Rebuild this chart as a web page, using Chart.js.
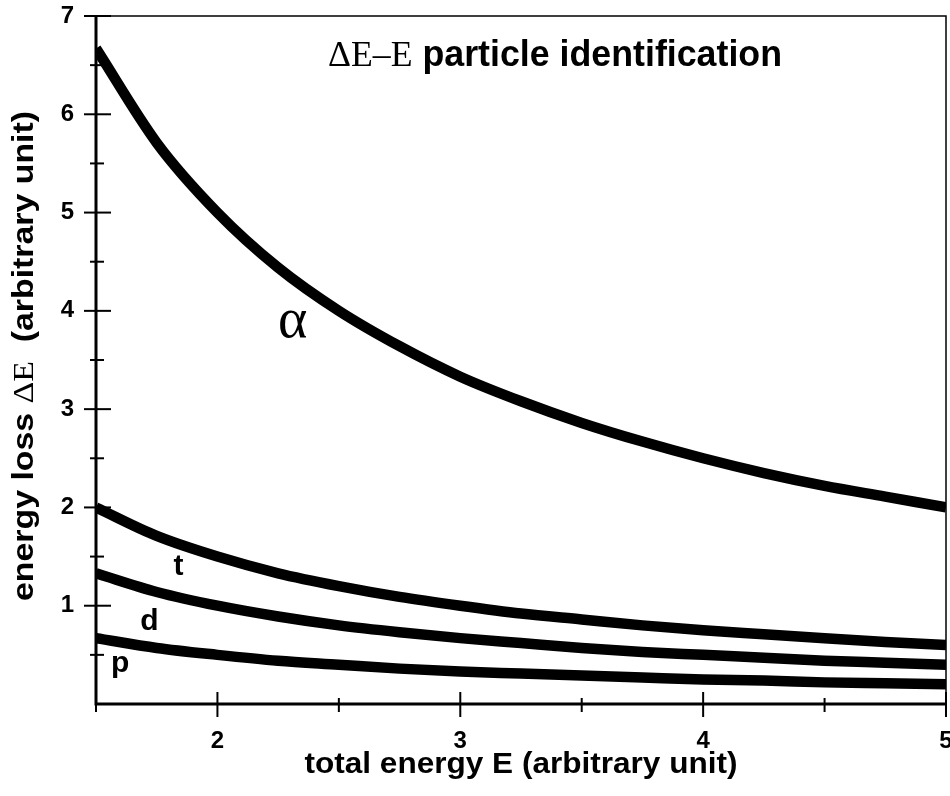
<!DOCTYPE html>
<html>
<head>
<meta charset="utf-8">
<script src="https://cdn.jsdelivr.net/npm/chart.js@4"></script>
<style>
  html, body { margin: 0; padding: 0; background: #fff; }
  #wrap { width: 950px; height: 796px; position: relative; }
</style>
</head>
<body>
<div id="wrap"><canvas id="pidChart"></canvas></div>
<script>
// values
const energyE = [1.5, 1.75, 2, 2.25, 2.5, 2.75, 3, 3.25, 3.5, 3.75, 4, 4.25, 4.5, 4.75, 5];
const alphaLoss = [6.67, 5.71, 5.00, 4.44, 4.00, 3.64, 3.33, 3.08, 2.86, 2.67, 2.50, 2.35, 2.22, 2.11, 2.00];
const tritonLoss = [2.00, 1.71, 1.50, 1.33, 1.20, 1.09, 1.00, 0.92, 0.86, 0.80, 0.75, 0.71, 0.67, 0.63, 0.60];
const deuteronLoss = [1.33, 1.14, 1.00, 0.89, 0.80, 0.73, 0.67, 0.62, 0.57, 0.53, 0.50, 0.47, 0.44, 0.42, 0.40];
const protonLoss = [0.67, 0.57, 0.50, 0.44, 0.40, 0.36, 0.33, 0.31, 0.29, 0.27, 0.25, 0.24, 0.22, 0.21, 0.20];

const xMajorTicks = [2, 3, 4, 5];
const xMinorTicks = [1.5, 2.5, 3.5, 4.5];
const yMajorTicks = [1, 2, 3, 4, 5, 6, 7];
const yMinorTicks = [0.5, 1.5, 2.5, 3.5, 4.5, 5.5, 6.5];

// curve labels: [text, x, y, serif?]
const curveLabels = [
    ['\u03b1', 2.31, 3.88, true],
    ['t', 1.84, 1.40, false],
    ['d', 1.72, 0.84, false],
    ['p', 1.6, 0.41, false]
];

const SANS = '"Liberation Sans", Arial, sans-serif';
const SERIF = '"Liberation Serif", "Times New Roman", serif';

const toPoints = (ys) => energyE.map((x, i) => ({ x: x, y: ys[i] }));

function lineSet(label, ys) {
    return {
        label: label,
        data: toPoints(ys),
        borderColor: '#000',
        borderWidth: 10.5,
        pointRadius: 0,
        fill: false,
        cubicInterpolationMode: 'monotone'
    };
}

// draws the boxed frame, crossing ticks, tick labels, titles and curve labels
const framePlugin = {
    id: 'frame',
    afterDraw(chart) {
        const ctx = chart.ctx;
        const xs = chart.scales.x, ys = chart.scales.y;
        const a = chart.chartArea;
        ctx.save();
        ctx.strokeStyle = '#000';
        ctx.fillStyle = '#000';

        // frame
        ctx.lineWidth = 3;
        ctx.beginPath();
        ctx.moveTo(a.left, a.top); ctx.lineTo(a.left, a.bottom); ctx.lineTo(a.right, a.bottom);
        ctx.stroke();
        ctx.lineWidth = 1.5;
        ctx.beginPath();
        ctx.moveTo(a.left - 12, a.top); ctx.lineTo(a.right, a.top); ctx.lineTo(a.right, a.bottom);
        ctx.stroke();

        // y ticks
        ctx.lineWidth = 2;
        yMajorTicks.forEach(v => {
            const py = ys.getPixelForValue(v);
            ctx.beginPath(); ctx.moveTo(a.left - 12, py); ctx.lineTo(a.left + 15, py); ctx.stroke();
        });
        yMinorTicks.forEach(v => {
            const py = ys.getPixelForValue(v);
            ctx.beginPath(); ctx.moveTo(a.left - 6, py); ctx.lineTo(a.left + 8, py); ctx.stroke();
        });
        // x ticks
        xMajorTicks.forEach(v => {
            const px = xs.getPixelForValue(v);
            ctx.beginPath(); ctx.moveTo(px, a.bottom - 12); ctx.lineTo(px, a.bottom + 13); ctx.stroke();
        });
        xMinorTicks.forEach(v => {
            const px = xs.getPixelForValue(v);
            ctx.beginPath(); ctx.moveTo(px, a.bottom - 6); ctx.lineTo(px, a.bottom + 8); ctx.stroke();
        });

        // tick labels
        ctx.font = 'bold 24px ' + SANS;
        ctx.textAlign = 'right';
        ctx.textBaseline = 'middle';
        yMajorTicks.forEach(v => ctx.fillText(String(v), a.left - 22, ys.getPixelForValue(v)));
        ctx.textAlign = 'center';
        ctx.textBaseline = 'alphabetic';
        xMajorTicks.forEach(v => ctx.fillText(String(v), xs.getPixelForValue(v), a.bottom + 44));

        // x axis title
        drawMixed(ctx, [['total energy E (arbitrary unit)', SANS, 'bold']], 29, (a.left + a.right) / 2, a.bottom + 69, 433);

        // y axis title (mixed fonts)
        const yParts = [['energy loss ', SANS, 'bold'], ['\u0394E', SERIF, ''], ['  (arbitrary unit)', SANS, 'bold']];
        ctx.save();
        ctx.translate(33, (a.top + a.bottom) / 2 - 4);
        ctx.rotate(-Math.PI / 2);
        drawMixed(ctx, yParts, 30, 0, 0, 490);
        ctx.restore();

        // chart title (mixed fonts)
        const titleParts = [['\u0394E\u2013E', SERIF, ''], [' particle identification', SANS, 'bold']];
        drawMixed(ctx, titleParts, 36, 555, 66, 454);

        // curve labels
        curveLabels.forEach(([txt, x, y, serif]) => {
            ctx.font = serif ? '56px ' + SERIF : 'bold 30px ' + SANS;
            ctx.textAlign = 'center';
            ctx.textBaseline = 'middle';
            ctx.fillText(txt, xs.getPixelForValue(x), ys.getPixelForValue(y));
        });
        ctx.restore();
    }
};

// draws text runs with mixed fonts, centred on cx, baseline at cy, stretched to a target width
function drawMixed(ctx, parts, size, cx, cy, width) {
    let total = 0;
    parts.forEach(([t, f, w]) => { ctx.font = w + ' ' + size + 'px ' + f; total += ctx.measureText(t).width; });
    const sx = width ? width / total : 1;
    ctx.save();
    ctx.translate(cx - total * sx / 2, cy);
    ctx.scale(sx, 1);
    let x = 0;
    ctx.textAlign = 'left';
    ctx.textBaseline = 'alphabetic';
    parts.forEach(([t, f, w]) => {
        ctx.font = w + ' ' + size + 'px ' + f;
        ctx.fillText(t, x, 0);
        x += ctx.measureText(t).width;
    });
    ctx.restore();
}

new Chart(document.getElementById('pidChart'), {
    type: 'line',
    data: {
        datasets: [
            lineSet('alpha', alphaLoss),
            lineSet('t', tritonLoss),
            lineSet('d', deuteronLoss),
            lineSet('p', protonLoss)
        ]
    },
    options: {
        responsive: true,
        maintainAspectRatio: false,
        animation: false,
        layout: { padding: { left: 96, right: 4, top: 16, bottom: 92 } },
        scales: {
            x: { type: 'linear', min: 1.5, max: 5, display: false },
            y: { type: 'linear', min: 0, max: 7, display: false }
        },
        plugins: {
            legend: { display: false },
            tooltip: { enabled: false }
        }
    },
    plugins: [framePlugin]
});
</script>
</body>
</html>
